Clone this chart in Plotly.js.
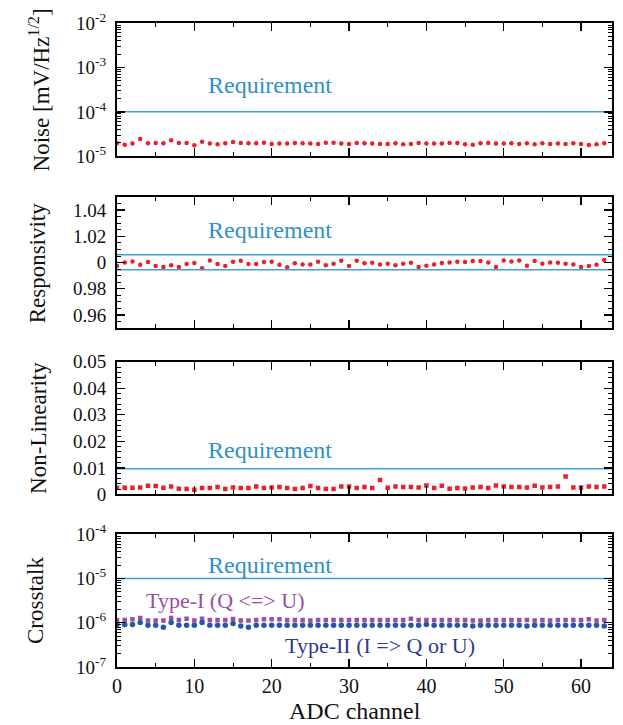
<!DOCTYPE html>
<html><head><meta charset="utf-8">
<script src="https://cdn.plot.ly/plotly-3.0.1.min.js"></script>
<style>html,body{margin:0;padding:0;background:#fff;}#chart{width:623px;height:725px;}</style>
</head><body><div id="chart"></div>
<script>
// ADC channel numbers 0..63
const channels = [0,1,2,3,4,5,6,7,8,9,10,11,12,13,14,15,16,17,18,19,20,21,22,23,24,25,26,27,28,29,30,31,32,33,34,35,36,37,38,39,40,41,42,43,44,45,46,47,48,49,50,51,52,53,54,55,56,57,58,59,60,61,62,63];

// Noise [mV/Hz^1/2]
const noise = [1.96e-5,1.83e-5,1.93e-5,2.46e-5,1.96e-5,2.00e-5,1.96e-5,2.30e-5,2.00e-5,2.00e-5,1.77e-5,2.14e-5,1.93e-5,1.87e-5,1.96e-5,2.11e-5,
  2.00e-5,1.96e-5,1.96e-5,2.03e-5,1.90e-5,1.93e-5,1.93e-5,2.00e-5,1.96e-5,1.93e-5,1.90e-5,2.03e-5,2.03e-5,1.93e-5,1.90e-5,2.00e-5,
  1.96e-5,1.93e-5,1.90e-5,1.90e-5,1.96e-5,1.87e-5,1.90e-5,2.00e-5,1.93e-5,1.93e-5,1.93e-5,2.00e-5,2.00e-5,1.87e-5,1.83e-5,1.96e-5,
  2.00e-5,1.93e-5,1.93e-5,1.96e-5,1.90e-5,1.96e-5,1.87e-5,1.96e-5,1.90e-5,1.93e-5,1.90e-5,1.96e-5,1.90e-5,1.80e-5,1.87e-5,1.96e-5];

// Responsivity
const responsivity = [0.9974,1.0001,1.0009,0.9984,1.0004,0.9974,0.9966,0.9979,0.9966,0.9989,0.9996,0.9956,1.0016,0.9989,0.9974,1.0006,
  1.0014,0.9989,0.9989,1.0004,1.0006,0.9984,0.9964,0.9994,0.9986,0.9986,1.0006,0.9979,0.9991,1.0014,0.9974,1.0014,
  0.9994,0.9999,0.9986,0.9991,0.9979,0.9991,0.9999,0.9966,0.9976,0.9986,0.9996,1.0001,1.0006,1.0004,1.0011,1.0011,
  1.0001,0.9966,1.0016,1.0009,1.0016,0.9976,1.0011,0.9991,1.0001,0.9999,0.9991,0.9986,0.9966,0.9974,0.9984,1.0019];

// Non-linearity
const nonlinearity = [0.00252,0.00252,0.00252,0.00264,0.00327,0.00314,0.00252,0.00302,0.00214,0.00201,0.00176,0.00239,0.00239,0.00277,0.00201,0.00264,
  0.00239,0.00239,0.00302,0.00239,0.00264,0.00277,0.00239,0.00201,0.00239,0.00314,0.00239,0.00201,0.00201,0.00302,0.00302,0.00239,
  0.00277,0.00239,0.00541,0.00252,0.00302,0.00277,0.00277,0.00264,0.00340,0.00239,0.00327,0.00214,0.00239,0.00226,0.00264,0.00277,
  0.00239,0.00340,0.00302,0.00277,0.00277,0.00264,0.00327,0.00264,0.00277,0.00302,0.00679,0.00264,0.00264,0.00302,0.00277,0.00302];

// Crosstalk Type-I (Q <=> U)
const crossType1 = [1.14e-6,1.16e-6,1.20e-6,1.29e-6,1.12e-6,1.12e-6,1.12e-6,1.29e-6,1.16e-6,1.24e-6,1.12e-6,1.24e-6,1.16e-6,1.16e-6,1.16e-6,1.22e-6,
  1.12e-6,1.12e-6,1.16e-6,1.20e-6,1.20e-6,1.20e-6,1.16e-6,1.16e-6,1.16e-6,1.12e-6,1.16e-6,1.16e-6,1.16e-6,1.16e-6,1.16e-6,1.16e-6,
  1.16e-6,1.16e-6,1.16e-6,1.16e-6,1.16e-6,1.16e-6,1.24e-6,1.16e-6,1.16e-6,1.16e-6,1.16e-6,1.16e-6,1.16e-6,1.16e-6,1.12e-6,1.12e-6,
  1.16e-6,1.16e-6,1.16e-6,1.16e-6,1.16e-6,1.16e-6,1.12e-6,1.16e-6,1.12e-6,1.16e-6,1.16e-6,1.16e-6,1.16e-6,1.20e-6,1.12e-6,1.16e-6];

// Crosstalk Type-II (I => Q or U)
const crossType2 = [0.91e-6,0.91e-6,0.91e-6,1.01e-6,0.88e-6,0.88e-6,0.79e-6,1.01e-6,0.88e-6,0.88e-6,0.88e-6,1.01e-6,0.88e-6,0.88e-6,0.88e-6,0.96e-6,
  0.85e-6,0.79e-6,0.88e-6,0.88e-6,0.88e-6,0.88e-6,0.88e-6,0.88e-6,0.88e-6,0.88e-6,0.88e-6,0.88e-6,0.88e-6,0.88e-6,0.88e-6,0.88e-6,
  0.88e-6,0.88e-6,0.88e-6,0.88e-6,0.88e-6,0.88e-6,0.88e-6,0.88e-6,0.91e-6,0.88e-6,0.88e-6,0.88e-6,0.88e-6,0.88e-6,0.85e-6,0.88e-6,
  0.88e-6,0.88e-6,0.88e-6,0.88e-6,0.88e-6,0.85e-6,0.88e-6,0.88e-6,0.88e-6,0.88e-6,0.88e-6,0.88e-6,0.88e-6,0.88e-6,0.88e-6,0.85e-6];

// Requirement levels
const noiseReq = [1e-4];
const respReq = [1.006, 0.9945];
const nonlinReq = [0.0097];
const crossReq = [1e-5];
const reqX = [0, 64];

// Tick labels
const noiseTickVals = [1e-5,1e-4,1e-3,1e-2];
const noiseTickText = ['10<sup>-5</sup>','10<sup>-4</sup>','10<sup>-3</sup>','10<sup>-2</sup>'];
const respTickVals = [0.96,0.98,1.00,1.02,1.04];
const respTickText = ['0.96','0.98','0','1.02','1.04'];
const nlTickVals = [0,0.01,0.02,0.03,0.04,0.05];
const nlTickText = ['0','0.01','0.02','0.03','0.04','0.05'];
const crossTickVals = [1e-7,1e-6,1e-5,1e-4];
const crossTickText = ['10<sup>-7</sup>','10<sup>-6</sup>','10<sup>-5</sup>','10<sup>-4</sup>'];

const RED = '#e8212b', REQLINE = '#3ea4d6', REQTEXT = '#3190c4', PURPLE = '#9a4ea6', BLUE = '#2457a8', NAVY = '#2e3a8c';
const FONT = "'Liberation Serif', 'Times New Roman', Times, serif";

function logMinors(e0, e1){ const v=[]; for(let e=e0;e<e1;e++){ for(let k=2;k<=9;k++) v.push(k*Math.pow(10,e)); } return v; }

const traces = [
  {x: channels, y: noise, xaxis:'x', yaxis:'y', mode:'markers', type:'scatter', marker:{color:RED, size:4.5, symbol:'circle'}},
  {x: reqX, y: [noiseReq[0], noiseReq[0]], xaxis:'x', yaxis:'y', mode:'lines', line:{color:REQLINE, width:1.5}},
  {x: channels, y: responsivity, xaxis:'x2', yaxis:'y2', mode:'markers', marker:{color:RED, size:4.5, symbol:'circle'}},
  {x: reqX, y: [respReq[0], respReq[0]], xaxis:'x2', yaxis:'y2', mode:'lines', line:{color:REQLINE, width:1.5}},
  {x: reqX, y: [respReq[1], respReq[1]], xaxis:'x2', yaxis:'y2', mode:'lines', line:{color:REQLINE, width:1.5}},
  {x: channels, y: nonlinearity, xaxis:'x3', yaxis:'y3', mode:'markers', marker:{color:RED, size:4.5, symbol:'square'}},
  {x: reqX, y: [nonlinReq[0], nonlinReq[0]], xaxis:'x3', yaxis:'y3', mode:'lines', line:{color:REQLINE, width:1.5}},
  {x: reqX, y: [crossReq[0], crossReq[0]], xaxis:'x4', yaxis:'y4', mode:'lines', line:{color:REQLINE, width:1.5}},
  {x: channels, y: crossType1, xaxis:'x4', yaxis:'y4', mode:'markers', marker:{color:PURPLE, size:4.5, symbol:'square'}},
  {x: channels, y: crossType2, xaxis:'x4', yaxis:'y4', mode:'markers', marker:{color:BLUE, size:5.5, symbol:'circle'}}
];

function xax(anchor, labels){
  return {anchor: anchor, range:[0,64], showline:true, linecolor:'#000', linewidth:2, mirror:'ticks',
    ticks:'inside', ticklen:8, tickwidth:1.3, tickcolor:'#000', dtick:10, tick0:0,
    minor:{ticks:'inside', ticklen:4, tickwidth:1, dtick:5, tickcolor:'#000'},
    showgrid:false, zeroline:false, showticklabels:labels, matches: anchor==='y4'?undefined:'x4',
    tickfont:{family:FONT, size:20, color:'#111'}};
}
function yax(domain, extra){
  return Object.assign({domain:domain, showline:true, linecolor:'#000', linewidth:2, mirror:'ticks',
    ticks:'inside', ticklen:8, tickwidth:1.3, tickcolor:'#000', tickmode:'array',
    showgrid:false, zeroline:false, tickfont:{family:FONT, size:19, color:'#111'}, ticklabelstandoff:5}, extra);
}

const layout = {
  width:623, height:725, margin:{l:117, r:11, t:23, b:58},
  paper_bgcolor:'#fff', plot_bgcolor:'#fff', showlegend:false,
  font:{family:FONT, color:'#111'},
  xaxis: xax('y', false),
  xaxis2: xax('y2', false),
  xaxis3: xax('y3', false),
  xaxis4: xax('y4', true),
  yaxis: yax([0.793,1], {type:'log', range:[-5,-2], tickvals:noiseTickVals, ticktext:noiseTickText,
    minor:{ticks:'inside', ticklen:4, tickwidth:1, tickcolor:'#000', tickvals:logMinors(-5,-2)}}),
  yaxis2: yax([0.526,0.730], {range:[0.95,1.05], tickvals:respTickVals, ticktext:respTickText,
    minor:{ticks:'inside', ticklen:4, tickwidth:1, tickcolor:'#000', dtick:0.005, tick0:0.95}}),
  yaxis3: yax([0.268,0.474], {range:[0,0.05], tickvals:nlTickVals, ticktext:nlTickText,
    minor:{ticks:'inside', ticklen:4, tickwidth:1, tickcolor:'#000', dtick:0.002, tick0:0}}),
  yaxis4: yax([0,0.206], {type:'log', range:[-7,-4], tickvals:crossTickVals, ticktext:crossTickText,
    minor:{ticks:'inside', ticklen:4, tickwidth:1, tickcolor:'#000', tickvals:logMinors(-7,-4)}}),
  annotations: [
    {xref:'x', yref:'y', x:19.8, y:-3.40, text:'Requirement', showarrow:false, font:{family:FONT, size:24, color:REQTEXT}},
    {xref:'x2', yref:'y2', x:19.8, y:1.025, text:'Requirement', showarrow:false, font:{family:FONT, size:24, color:REQTEXT}},
    {xref:'x3', yref:'y3', x:19.8, y:0.0166, text:'Requirement', showarrow:false, font:{family:FONT, size:24, color:REQTEXT}},
    {xref:'x4', yref:'y4', x:19.8, y:-4.70, text:'Requirement', showarrow:false, font:{family:FONT, size:24, color:REQTEXT}},
    {xref:'x4', yref:'y4', x:14, y:-5.50, text:'Type-I (Q &lt;=&gt; U)', showarrow:false, font:{family:FONT, size:22, color:PURPLE}},
    {xref:'x4', yref:'y4', x:34, y:-6.52, text:'Type-II (I =&gt; Q or U)', showarrow:false, font:{family:FONT, size:22, color:NAVY}},
    {xref:'paper', yref:'paper', x:-0.156, y:0.8965, xanchor:'center', yanchor:'middle', textangle:-90, showarrow:false,
      text:'Noise [mV/Hz<sup>1/2</sup>]', font:{family:FONT, size:23, color:'#111'}},
    {xref:'paper', yref:'paper', x:-0.16, y:0.628, xanchor:'center', yanchor:'middle', textangle:-90, showarrow:false,
      text:'Responsivity', font:{family:FONT, size:23, color:'#111'}},
    {xref:'paper', yref:'paper', x:-0.16, y:0.371, xanchor:'center', yanchor:'middle', textangle:-90, showarrow:false,
      text:'Non-Linearity', font:{family:FONT, size:23, color:'#111'}},
    {xref:'paper', yref:'paper', x:-0.165, y:0.103, xanchor:'center', yanchor:'middle', textangle:-90, showarrow:false,
      text:'Crosstalk', font:{family:FONT, size:23, color:'#111'}},
    {xref:'paper', yref:'paper', x:0.48, y:-0.068, xanchor:'center', yanchor:'middle', showarrow:false,
      text:'ADC channel', font:{family:FONT, size:24, color:'#111'}}
  ]
};

Plotly.newPlot('chart', traces, layout, {displayModeBar:false, staticPlot:true});
</script>
</body></html>
